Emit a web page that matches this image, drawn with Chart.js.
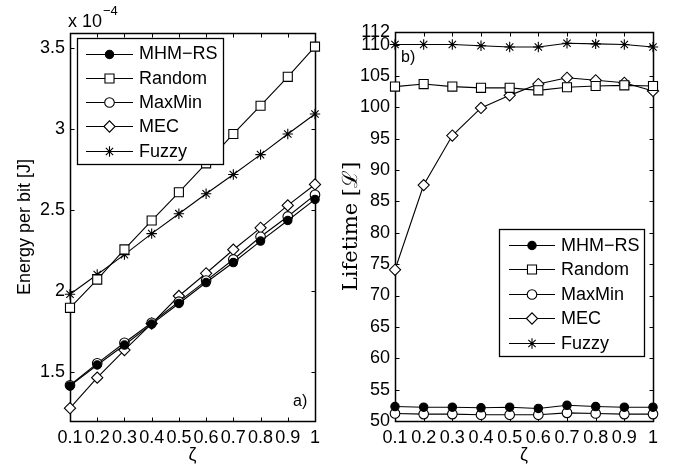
<!DOCTYPE html>
<html>
<head>
<meta charset="utf-8">
<script src="https://cdn.jsdelivr.net/npm/chart.js@4.4.0/dist/chart.umd.min.js"></script>
<style>
html, body { margin: 0; padding: 0; background: #fff; }
#wrap { position: relative; width: 674px; height: 464px; }
.panel { position: absolute; top: 0; width: 337px; height: 464px; }
</style>
</head>
<body>
<div id="wrap">
	<div class="panel" style="left:0"><canvas id="EnergyChart" width="337" height="464"></canvas></div>
	<div class="panel" style="left:337px"><canvas id="LifetimeChart" width="337" height="464"></canvas></div>
</div>
<script>
// zeta values (x axis, both panels)
const zeta = [0.1, 0.2, 0.3, 0.4, 0.5, 0.6, 0.7, 0.8, 0.9, 1];
const seriesNames = ['MHM\u2212RS', 'Random', 'MaxMin', 'MEC', 'Fuzzy'];

// a) energy per bit, in units of 1e-4 J
const energyMhm    = [1.416, 1.545, 1.668, 1.797, 1.924, 2.053, 2.176, 2.308, 2.435, 2.565];
const energyRandom = [1.897, 2.071, 2.257, 2.435, 2.609, 2.787, 2.968, 3.142, 3.320, 3.506];
const energyMaxMin = [1.420, 1.555, 1.682, 1.805, 1.935, 2.065, 2.195, 2.335, 2.460, 2.593];
const energyMec    = [1.279, 1.467, 1.637, 1.800, 1.970, 2.110, 2.255, 2.390, 2.528, 2.657];
const energyFuzzy  = [1.981, 2.102, 2.225, 2.354, 2.477, 2.600, 2.718, 2.841, 2.968, 3.091];

// b) lifetime
const lifeMhm    = [52.3, 52.2, 52.2, 52.1, 52.2, 52.0, 52.5, 52.3, 52.2, 52.2];
const lifeRandom = [103.3, 103.7, 103.3, 103.1, 103.1, 102.7, 103.2, 103.4, 103.5, 103.4];
const lifeMaxMin = [51.2, 51.1, 51.1, 51.0, 51.0, 51.0, 51.3, 51.2, 51.1, 51.1];
const lifeMec    = [74.1, 87.6, 95.5, 99.9, 101.9, 103.7, 104.7, 104.3, 103.9, 102.6];
const lifeFuzzy  = [110.0, 110.0, 110.0, 109.8, 109.6, 109.6, 110.2, 110.1, 110.0, 109.6];

// tick labels
const zetaTicks = [0.1, 0.2, 0.3, 0.4, 0.5, 0.6, 0.7, 0.8, 0.9, 1];
const energyTicks = [1.5, 2, 2.5, 3, 3.5];
const lifeTicks = [50, 55, 60, 65, 70, 75, 80, 85, 90, 95, 100, 105, 110, 112];

const markers = [
	{ style: 'circle',  fill: '#000', r: 4.2 },
	{ style: 'rect',    fill: '#fff', r: 6.4 },
	{ style: 'circle',  fill: '#fff', r: 4.8 },
	{ style: 'rectRot', fill: '#fff', r: 5.6 },
	{ style: 'star',    fill: '#fff', r: 5.2 }
];

const SANS = '"Liberation Sans", Arial, sans-serif';

function makeDatasets(lists) {
	return lists.map(function (vals, i) {
		return {
			label: seriesNames[i],
			data: zeta.map(function (z, k) { return { x: z, y: vals[k] }; }),
			borderColor: '#000',
			borderWidth: 1.1,
			backgroundColor: markers[i].fill,
			pointBackgroundColor: markers[i].fill,
			pointBorderColor: '#000',
			pointBorderWidth: 1.1,
			pointStyle: markers[i].style,
			pointRadius: markers[i].r,
			tension: 0,
			fill: false,
			clip: false
		};
	});
}

// box round the plot with small inward ticks on all four sides
const framePlugin = {
	id: 'frame',
	beforeDatasetsDraw(chart) {
		const ctx = chart.ctx, a = chart.chartArea;
		const sx = chart.scales.x, sy = chart.scales.y;
		const L = Math.round(a.left) + 0.5, R = Math.round(a.right) + 0.5;
		const T = Math.round(a.top) + 0.5, B = Math.round(a.bottom) + 0.5;
		ctx.save();
		ctx.strokeStyle = '#000';
		ctx.lineWidth = 1;
		ctx.beginPath();
		sx.ticks.forEach(function (t) {
			const px = Math.round(sx.getPixelForValue(t.value)) + 0.5;
			ctx.moveTo(px, B); ctx.lineTo(px, B - 4);
			ctx.moveTo(px, T); ctx.lineTo(px, T + 4);
		});
		sy.ticks.forEach(function (t) {
			const py = Math.round(sy.getPixelForValue(t.value)) + 0.5;
			ctx.moveTo(L, py); ctx.lineTo(L + 4, py);
			ctx.moveTo(R, py); ctx.lineTo(R - 4, py);
		});
		ctx.stroke();
		ctx.lineWidth = 1.5;
		ctx.strokeRect(L, T, R - L, B - T);
		ctx.restore();
	}
};

// legend drawn inside the plot, Matlab style
const boxLegendPlugin = {
	id: 'boxLegend',
	afterDatasetsDraw(chart, args, opts) {
		const ctx = chart.ctx;
		ctx.save();
		ctx.fillStyle = '#fff';
		ctx.fillRect(opts.x, opts.y, opts.w, opts.h);
		ctx.strokeStyle = '#000';
		ctx.lineWidth = 1.3;
		ctx.strokeRect(opts.x + 0.5, opts.y + 0.5, opts.w, opts.h);
		ctx.font = '18px ' + SANS;
		ctx.textBaseline = 'middle';
		ctx.textAlign = 'left';
		chart.data.datasets.forEach(function (ds, i) {
			const y = opts.row0 + i * opts.rowGap;
			ctx.strokeStyle = '#000';
			ctx.lineWidth = 1.1;
			ctx.beginPath();
			ctx.moveTo(opts.x0, Math.round(y) + 0.5);
			ctx.lineTo(opts.x1, Math.round(y) + 0.5);
			ctx.stroke();
			ctx.fillStyle = ds.pointBackgroundColor;
			Chart.helpers.drawPoint(ctx, {
				pointStyle: ds.pointStyle, radius: ds.pointRadius, rotation: 0, borderWidth: 1.1
			}, (opts.x0 + opts.x1) / 2, Math.round(y) + 0.5);
			ctx.fillStyle = '#000';
			ctx.fillText(ds.label, opts.tx, y + 1);
		});
		ctx.restore();
	}
};

// free text: multiplier and panel letters
const notesPlugin = {
	id: 'notes',
	afterDraw(chart, args, opts) {
		const ctx = chart.ctx;
		ctx.save();
		ctx.fillStyle = '#000';
		ctx.textBaseline = 'alphabetic';
		ctx.textAlign = 'left';
		opts.items.forEach(function (n) {
			ctx.font = n.size + 'px ' + SANS;
			ctx.fillText(n.text, n.x, n.y);
		});
		ctx.restore();
	}
};

function setTicks(list) {
	return function (scale) {
		scale.ticks = list.map(function (v) { return { value: v }; });
	};
}

function makeOptions(o) {
	return {
		responsive: false,
		animation: false,
		events: [],
		layout: { padding: { left: 0, right: o.padRight, top: o.padTop, bottom: 0 } },
		plugins: {
			legend: { display: false },
			tooltip: { enabled: false },
			boxLegend: o.legend,
			notes: { items: o.notes }
		},
		scales: {
			x: {
				type: 'linear',
				min: 0.1,
				max: 1,
				afterBuildTicks: setTicks(zetaTicks),
				afterFit: function (s) { s.height = 43; },
				grid: { display: false, drawTicks: false },
				border: { display: false },
				ticks: {
					autoSkip: false, maxRotation: 0, padding: 6, color: '#000',
					font: { family: SANS, size: 18 },
					callback: function (v) { return String(v); }
				},
				title: {
					display: true, text: '\u03b6', color: '#000',
					font: { family: SANS, size: 18, lineHeight: 1 },
					padding: { top: 0, bottom: 0 }
				}
			},
			y: {
				type: 'linear',
				min: o.yMin,
				max: o.yMax,
				afterBuildTicks: setTicks(o.yTicks),
				afterFit: function (s) { s.width = o.yWidth; },
				grid: { display: false, drawTicks: false },
				border: { display: false },
				ticks: {
					autoSkip: false, padding: 5, color: '#000',
					font: { family: SANS, size: 18 },
					callback: function (v) { return String(v); }
				},
				title: {
					display: true, text: o.yTitle, color: '#000',
					font: o.yTitleFont,
					padding: { top: o.yTitlePad, bottom: 0 }
				}
			}
		}
	};
}

new Chart(document.getElementById('EnergyChart'), {
	type: 'line',
	data: { datasets: makeDatasets([energyMhm, energyRandom, energyMaxMin, energyMec, energyFuzzy]) },
	options: makeOptions({
		padRight: 22, padTop: 33, yWidth: 70,
		yMin: 1.2, yMax: 3.59, yTicks: energyTicks,
		yTitle: 'Energy per bit [J]',
		yTitleFont: { family: SANS, size: 18, lineHeight: 1 },
		yTitlePad: 16,
		legend: { x: 77, y: 38, w: 146, h: 126, row0: 53.5, rowGap: 24.3, x0: 86, x1: 133, tx: 139 },
		notes: [
			{ text: 'x 10', x: 68, y: 27, size: 18 },
			{ text: '\u22124', x: 103, y: 15, size: 13 },
			{ text: 'a)', x: 293, y: 406, size: 16 }
		]
	}),
	plugins: [framePlugin, boxLegendPlugin, notesPlugin]
});

new Chart(document.getElementById('LifetimeChart'), {
	type: 'line',
	data: { datasets: makeDatasets([lifeMhm, lifeRandom, lifeMaxMin, lifeMec, lifeFuzzy]) },
	options: makeOptions({
		padRight: 21, padTop: 32, yWidth: 58,
		yMin: 50, yMax: 112, yTicks: lifeTicks,
		yTitle: 'Lifetime [\u2112]',
		yTitleFont: { family: '"DejaVu Serif", serif', size: 21, lineHeight: 1 },
		yTitlePad: 4,
		legend: { x: 162, y: 229, w: 145, h: 127, row0: 245, rowGap: 24.4, x0: 172, x1: 218, tx: 224 },
		notes: [
			{ text: 'b)', x: 64, y: 62, size: 16 }
		]
	}),
	plugins: [framePlugin, boxLegendPlugin, notesPlugin]
});
</script>
</body>
</html>
